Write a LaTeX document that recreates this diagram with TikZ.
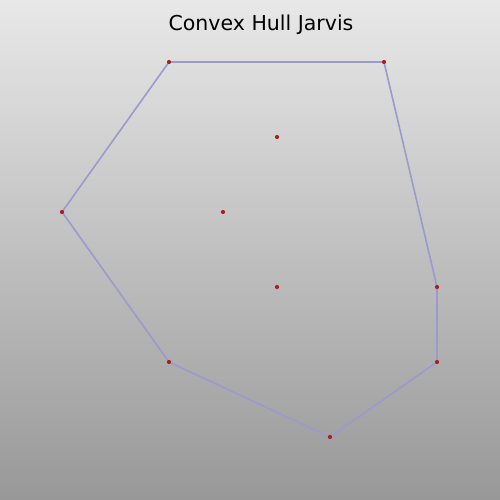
\documentclass[tikz,border=0pt]{standalone}
\usepackage{fontspec}
\setmainfont{DejaVu Sans}
\definecolor{bgtop}{HTML}{E8E8E8}
\definecolor{bgbot}{HTML}{989898}
\definecolor{hull}{HTML}{9A9ACF}
\definecolor{pt}{HTML}{AA2020}
\begin{document}
\begin{tikzpicture}[x=1pt,y=-1pt,
  hulledge/.style={draw=hull,line width=1.6pt},
  dot/.style={circle,fill=pt,inner sep=0pt,minimum size=4.2pt}]
\useasboundingbox (0,0) rectangle (500,500);
\shade[top color=bgtop,bottom color=bgbot] (0,0) rectangle (500,500);
\node[font=\fontsize{20.5}{24}\selectfont,anchor=base] (title) at (261,31) {Convex Hull Jarvis};
\coordinate (p1) at (169,62);
\coordinate (p2) at (384,62);
\coordinate (p3) at (437,287);
\coordinate (p4) at (437,362);
\coordinate (p5) at (330,437);
\coordinate (p6) at (169,362);
\coordinate (p7) at (62,212);
\draw[hulledge] (p1) -- (p2) -- (p3) -- (p4) -- (p5) -- (p6) -- (p7) -- cycle;
\node[dot] (a1) at (p1) {};
\node[dot] (a2) at (p2) {};
\node[dot] (a3) at (p3) {};
\node[dot] (a4) at (p4) {};
\node[dot] (a5) at (p5) {};
\node[dot] (a6) at (p6) {};
\node[dot] (a7) at (p7) {};
\node[dot] (b1) at (277,137) {};
\node[dot] (b2) at (223,212) {};
\node[dot] (b3) at (277,287) {};
\end{tikzpicture}
\end{document}
